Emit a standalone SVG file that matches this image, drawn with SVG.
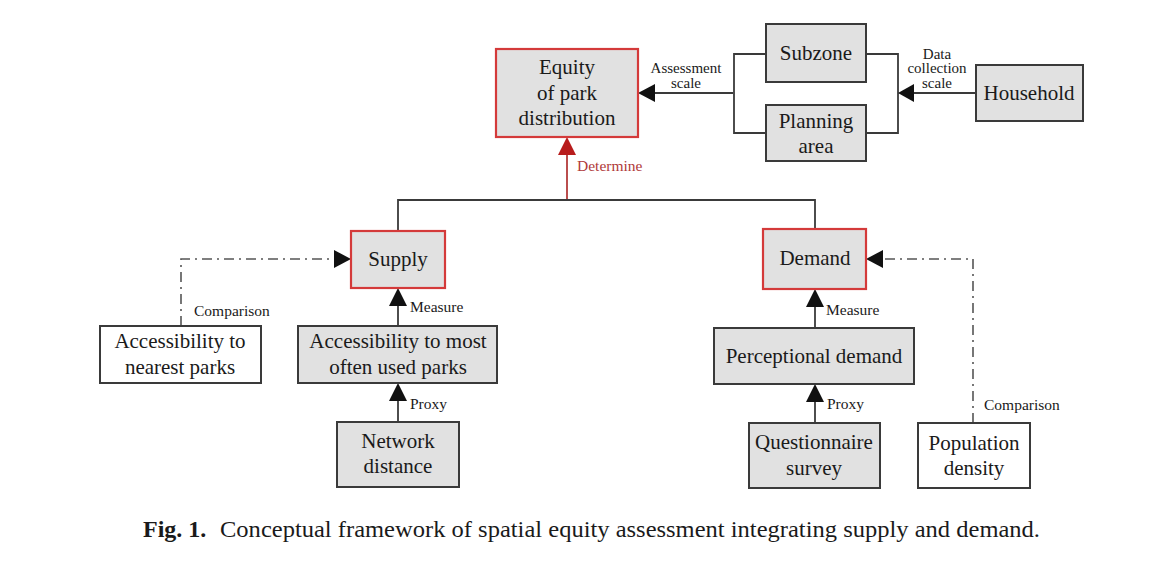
<svg xmlns="http://www.w3.org/2000/svg" width="1165" height="582" viewBox="0 0 1165 582">
<style>
.box{fill:#e1e1e1;stroke:#3a3a3a;stroke-width:2}
.wbox{fill:#ffffff;stroke:#3a3a3a;stroke-width:2}
.rbox{fill:#e1e1e1;stroke:#d43a3a;stroke-width:2.2}
.t{font-family:"Liberation Serif",serif;font-size:21px;fill:#1a1a1a;text-anchor:middle}
.s{font-family:"Liberation Serif",serif;font-size:15.5px;fill:#1a1a1a}
.sc{font-family:"Liberation Serif",serif;font-size:15px;fill:#1a1a1a;text-anchor:middle}
.ln{fill:none;stroke:#3a3a3a;stroke-width:1.8}
.dd{fill:none;stroke:#555;stroke-width:1.6;stroke-dasharray:10 5 2 5}
.cap{font-family:"Liberation Serif",serif;font-size:24px;fill:#1a1a1a}
</style>
<rect width="1165" height="582" fill="#ffffff"/>
<g id="connectors">
  <line class="ln" x1="733" y1="93" x2="640" y2="93"/>
  <polygon points="638,93 655,84 655,102" fill="#111"/>
  <polyline class="ln" points="766,54 734,54 734,133 766,133"/>
  <polyline class="ln" points="866,54 898,54 898,133 866,133"/>
  <line class="ln" x1="976" y1="93" x2="900" y2="93"/>
  <polygon points="898,93 914,84 914,102" fill="#111"/>
  <line x1="567" y1="200" x2="567" y2="140" stroke="#b33a3a" stroke-width="1.8"/>
  <polygon points="567,137 558,155 576,155" fill="#b81c1c"/>
  <polyline class="ln" points="398,231 398,200 815,200 815,229"/>
  <line class="ln" x1="398" y1="326" x2="398" y2="292"/>
  <polygon points="398,288 389,306 407,306" fill="#111"/>
  <line class="ln" x1="398" y1="422" x2="398" y2="387"/>
  <polygon points="398,383 389,401 407,401" fill="#111"/>
  <line class="ln" x1="815" y1="328" x2="815" y2="293"/>
  <polygon points="815,289 806,307 824,307" fill="#111"/>
  <line class="ln" x1="815" y1="423" x2="815" y2="388"/>
  <polygon points="815,384 806,402 824,402" fill="#111"/>
  <polyline class="dd" points="181,326 181,259 336,259"/>
  <polygon points="351,259 334,250 334,268" fill="#111"/>
  <polyline class="dd" points="973,423 973,259 882,259"/>
  <polygon points="866,259 883,250 883,268" fill="#111"/>
  <text class="sc" x="686" y="73">Assessment</text>
  <text class="sc" x="686" y="88">scale</text>
  <text class="sc" x="937" y="59">Data</text>
  <text class="sc" x="937" y="73">collection</text>
  <text class="sc" x="937" y="88">scale</text>
  <text class="s" x="577" y="171" style="fill:#b03a3a">Determine</text>
  <text class="s" x="410" y="312">Measure</text>
  <text class="s" x="410" y="409">Proxy</text>
  <text class="s" x="826" y="315">Measure</text>
  <text class="s" x="827" y="409">Proxy</text>
  <text class="s" x="194" y="316">Comparison</text>
  <text class="s" x="984" y="410">Comparison</text>
</g>
<g id="equity">
  <rect class="rbox" x="496" y="49" width="142" height="88"/>
  <text class="t" x="567" y="74">Equity</text>
  <text class="t" x="567" y="100">of park</text>
  <text class="t" x="567" y="125">distribution</text>
</g>
<g id="subzone">
  <rect class="box" x="766" y="24" width="100" height="58"/>
  <text class="t" x="816" y="60">Subzone</text>
</g>
<g id="planning">
  <rect class="box" x="766" y="105" width="100" height="56"/>
  <text class="t" x="816" y="128">Planning</text>
  <text class="t" x="816" y="153">area</text>
</g>
<g id="household">
  <rect class="box" x="976" y="65" width="107" height="56"/>
  <text class="t" x="1029" y="100">Household</text>
</g>
<g id="supply">
  <rect class="rbox" x="351" y="231" width="94" height="57"/>
  <text class="t" x="398" y="266">Supply</text>
</g>
<g id="demand">
  <rect class="rbox" x="763" y="229" width="103" height="60"/>
  <text class="t" x="815" y="265">Demand</text>
</g>
<g id="nearest">
  <rect class="wbox" x="100" y="326" width="161" height="57"/>
  <text class="t" x="180" y="348">Accessibility to</text>
  <text class="t" x="180" y="374">nearest parks</text>
</g>
<g id="mostused">
  <rect class="box" x="298" y="326" width="199" height="57"/>
  <text class="t" x="398" y="348">Accessibility to most</text>
  <text class="t" x="398" y="374">often used parks</text>
</g>
<g id="network">
  <rect class="box" x="337" y="422" width="122" height="65"/>
  <text class="t" x="398" y="448">Network</text>
  <text class="t" x="398" y="473">distance</text>
</g>
<g id="perceptional">
  <rect class="box" x="714" y="328" width="200" height="56"/>
  <text class="t" x="814" y="363">Perceptional demand</text>
</g>
<g id="questionnaire">
  <rect class="box" x="749" y="423" width="131" height="65"/>
  <text class="t" x="814" y="449">Questionnaire</text>
  <text class="t" x="814" y="475">survey</text>
</g>
<g id="population">
  <rect class="wbox" x="918" y="423" width="112" height="65"/>
  <text class="t" x="974" y="450">Population</text>
  <text class="t" x="974" y="475">density</text>
</g>
<g id="caption">
  <text class="cap" x="143" y="537"><tspan font-weight="bold">Fig. 1.</tspan><tspan x="220" textLength="820" lengthAdjust="spacingAndGlyphs">Conceptual framework of spatial equity assessment integrating supply and demand.</tspan></text>
</g>
</svg>
